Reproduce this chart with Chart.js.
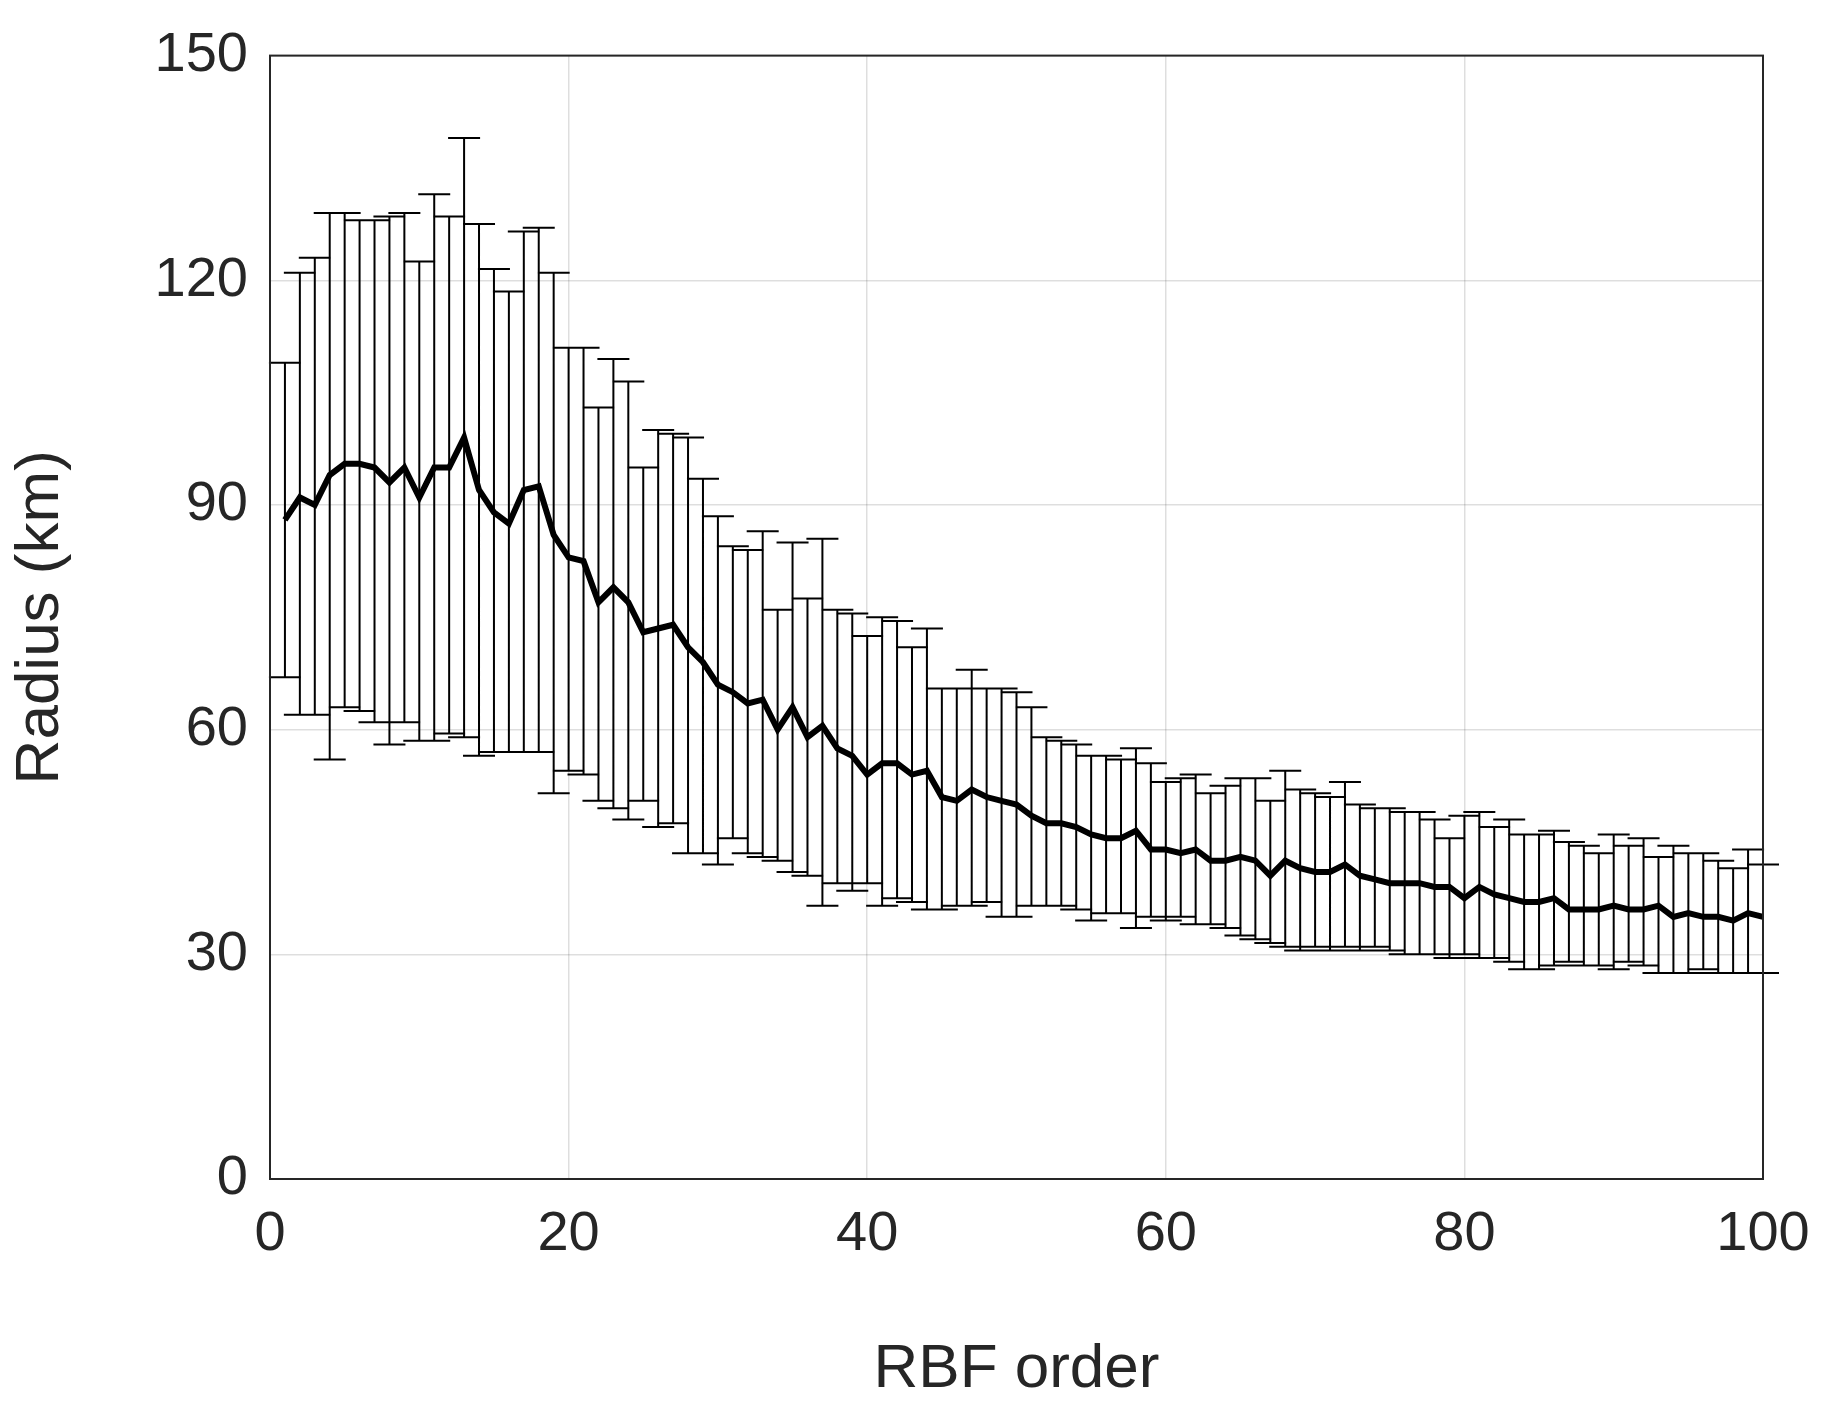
<!DOCTYPE html>
<html>
<head>
<meta charset="utf-8">
<script src="https://cdn.jsdelivr.net/npm/chart.js@4"></script>
<style>
html, body { margin: 0; padding: 0; background: #fff; }
#wrap { width: 1843px; height: 1411px; }
</style>
</head>
<body>
<div id="wrap"><canvas id="myChart"></canvas></div>
<script>
const orders = [];
for (let i = 1; i <= 100; i++) orders.push(i);

const meanRadius = [88,91,90,94,95.5,95.5,95,93,95,91,95,95,99,92,89,87.5,92,92.5,86,83,
	82.5,77,79,77,73,73.5,74,71,69,66,65,63.5,64,60,63,59,60.5,57.5,56.5,54,
	55.5,55.5,54,54.5,51,50.5,52,51,50.5,50,48.5,47.5,47.5,47,46,45.5,45.5,46.5,44,44,
	43.5,44,42.5,42.5,43,42.5,40.5,42.5,41.5,41,41,42,40.5,40,39.5,39.5,39.5,39,39,37.5,
	39,38,37.5,37,37,37.5,36,36,36,36.5,36,36,36.5,35,35.5,35,35,34.5,35.5,35];

const upperRadius = [109,121,123,129,129,128,128,128.5,129,122.5,131.5,128.5,139,127.5,121.5,118.5,126.5,127,121,111,
	111,103,109.5,106.5,95,100,99.5,99,93.5,88.5,84.5,84,86.5,76,85,77.5,85.5,76,75.5,72.5,
	75,74.5,71,73.5,65.5,65.5,68,65.5,65.5,65,63,59,58.5,58,56.5,56.5,56,57.5,55.5,53,
	53.5,54,51.5,52.5,53.5,53.5,50.5,54.5,52,51.5,51,53,50,49.5,49.5,49,49,48,45.5,48.5,
	49,47,48,46,46,46.5,45,44.5,43.5,46,44.5,45.5,43,44.5,43.5,43.5,42.5,41.5,44,42];

const lowerRadius = [67,62,62,56,63,62.5,61,58,61,58.5,58.5,59.5,59,56.5,57,57,57,57,51.5,54.5,
	54,50.5,49.5,48,50.5,47,47.5,43.5,43.5,42,45.5,43.5,43,42.5,41,40.5,36.5,39.5,38.5,39.5,
	36.5,37.5,37,36,36,36.5,36.5,37,35,35,36.5,36.5,36.5,36,34.5,35.5,35.5,33.5,35,34.5,
	35,34,34,33.5,32.5,32,31.5,31,30.5,31,30.5,31,30.5,31,30.5,30,30,30,29.5,30,
	29.5,29.5,29,28,28,28.5,29,28.5,28.5,28,29,28.5,27.5,27.5,27.5,28,27.5,27.5,27.5,27.5];

const xTicks = [0, 20, 40, 60, 80, 100];
const yTicks = [0, 30, 60, 90, 120, 150];

// error bars + axes box
const errorBars = {
	id: 'errorBars',
	beforeDatasetsDraw(chart) {
		const ctx = chart.ctx, x = chart.scales.x, y = chart.scales.y;
		ctx.save();
		ctx.strokeStyle = '#000';
		ctx.lineWidth = 2;
		ctx.beginPath();
		for (let i = 0; i < orders.length; i++) {
			const px = x.getPixelForValue(orders[i]);
			const pu = y.getPixelForValue(upperRadius[i]);
			const pl = y.getPixelForValue(lowerRadius[i]);
			ctx.moveTo(px, pu); ctx.lineTo(px, pl);
			ctx.moveTo(px - 16, pu); ctx.lineTo(px + 16, pu);
			ctx.moveTo(px - 16, pl); ctx.lineTo(px + 16, pl);
		}
		ctx.stroke();
		ctx.restore();
	},
	afterDraw(chart) {
		const ctx = chart.ctx, a = chart.chartArea;
		ctx.save();
		ctx.strokeStyle = '#262626';
		ctx.lineWidth = 2;
		ctx.strokeRect(a.left, a.top, a.right - a.left, a.bottom - a.top);
		ctx.restore();
	}
};

const config = {
	type: 'line',
	data: {
		datasets: [{
			data: orders.map((o, i) => ({x: o, y: meanRadius[i]})),
			borderColor: '#000',
			borderWidth: 6,
			pointRadius: 0,
			tension: 0
		}]
	},
	options: {
		responsive: true,
		maintainAspectRatio: false,
		animation: false,
		layout: { padding: { top: 52, right: 80, left: 0, bottom: 0 } },
		plugins: { legend: { display: false }, tooltip: { enabled: false } },
		scales: {
			x: {
				type: 'linear', min: 0, max: 100,
				afterBuildTicks(s) { s.ticks = xTicks.map(v => ({value: v})); },
				afterFit(s) { s.height = 232; },
				grid: { color: 'rgba(0,0,0,0.13)', lineWidth: 1.5, drawTicks: false },
				border: { display: false },
				ticks: { color: '#262626', padding: 22, font: { family: 'Liberation Sans', size: 56 } },
				title: { display: true, text: 'RBF order', color: '#262626', padding: { top: 8 },
					font: { family: 'Liberation Sans', size: 62 } }
			},
			y: {
				type: 'linear', min: 0, max: 150,
				afterBuildTicks(s) { s.ticks = yTicks.map(v => ({value: v})); },
				afterFit(s) { s.width = 270; },
				grid: { color: 'rgba(0,0,0,0.13)', lineWidth: 1.5, drawTicks: false },
				border: { display: false },
				ticks: { color: '#262626', padding: 22, font: { family: 'Liberation Sans', size: 56 } },
				title: { display: true, text: 'Radius (km)', color: '#262626', padding: { bottom: 10 },
					font: { family: 'Liberation Sans', size: 62 } }
			}
		}
	},
	plugins: [errorBars]
};

const myChart = new Chart(document.getElementById('myChart'), config);
</script>
</body>
</html>
